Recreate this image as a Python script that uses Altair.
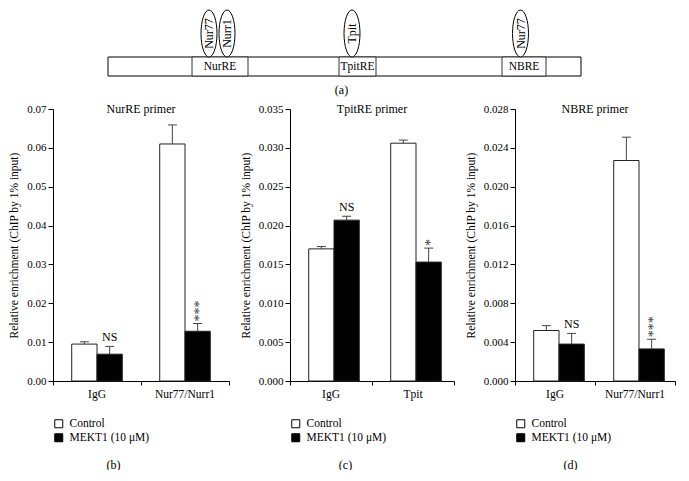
import altair as alt
import pandas as pd

FONT = "Liberation Serif"

# ---------------- (a) promoter diagram ----------------
track_start = [0]
track_end = [473]
element_names = ["NurRE", "TpitRE", "NBRE"]
element_start = [84, 231, 394]
element_end = [140, 268, 438]
protein_names = ["Nur77", "Nurr1", "Tpit", "Nur77"]
protein_pos = [101, 119, 244, 412.5]
track_low, track_high = 0, 19
protein_center = 42.5
diagram_ymax = 66
diagram_view = [-55, 572]   # visible extent of the schematic axis

# ---------------- bar panels ----------------
series = ["Control", "MEKT1 (10 μM)"]

cats_b = ["IgG", "Nur77/Nurr1"]
ctrl_b = [0.0095, 0.0610]
ctrl_err_b = [0.0006, 0.0049]
mekt_b = [0.0069, 0.0128]
mekt_err_b = [0.0020, 0.0020]
sig_b = ["NS", "***"]
yticks_b = [0.00, 0.01, 0.02, 0.03, 0.04, 0.05, 0.06, 0.07]

cats_c = ["IgG", "Tpit"]
ctrl_c = [0.0170, 0.0306]
ctrl_err_c = [0.0003, 0.0004]
mekt_c = [0.0207, 0.0153]
mekt_err_c = [0.0005, 0.0018]
sig_c = ["NS", "*"]
yticks_c = [0.000, 0.005, 0.010, 0.015, 0.020, 0.025, 0.030, 0.035]

cats_d = ["IgG", "Nur77/Nurr1"]
ctrl_d = [0.0052, 0.0227]
ctrl_err_d = [0.0005, 0.0024]
mekt_d = [0.0038, 0.0033]
mekt_err_d = [0.0011, 0.0010]
sig_d = ["NS", "***"]
yticks_d = [0.000, 0.004, 0.008, 0.012, 0.016, 0.020, 0.024, 0.028]

YTITLE = "Relative enrichment (ChIP by 1% input)"

# ---------------- diagram chart ----------------
DW = 627
xs = alt.Scale(domain=diagram_view, nice=False, zero=False)
ys = alt.Scale(domain=[0, diagram_ymax], nice=False, zero=True)
xaxis_a = alt.Axis(title="(a)", domain=False, ticks=False, labels=False, grid=False,
                   titlePadding=8, titleFontSize=12, titleFontWeight="normal", titleFont=FONT,
                   titleColor="black", titleX=288, titleAlign="center")

track_df = pd.DataFrame({"start": track_start, "end": track_end,
                         "lo": [track_low], "hi": [track_high]})
elem_df = pd.DataFrame({"name": element_names, "start": element_start, "end": element_end,
                        "lo": [track_low] * 3, "hi": [track_high] * 3})
elem_df["mid"] = (elem_df["start"] + elem_df["end"]) / 2
elem_df["ymid"] = (track_low + track_high) / 2
prot_df = pd.DataFrame({"name": protein_names, "pos": protein_pos,
                        "yc": [protein_center] * 4})

ELLIPSE = "M0,-1 A0.34,1 0 1,1 0,1 A0.34,1 0 1,1 0,-1 Z"

track = alt.Chart(track_df).mark_rect(fill="white", stroke="black", strokeWidth=1).encode(
    x=alt.X("start:Q", scale=xs, axis=xaxis_a), x2="end:Q",
    y=alt.Y("lo:Q", scale=ys, axis=None), y2="hi:Q")
elems = alt.Chart(elem_df).mark_rect(fill="white", stroke="#333", strokeWidth=1).encode(
    x=alt.X("start:Q", scale=xs, axis=xaxis_a), x2="end:Q",
    y=alt.Y("lo:Q", scale=ys, axis=None), y2="hi:Q")
elem_text = alt.Chart(elem_df).mark_text(font=FONT, fontSize=11.5, color="black").encode(
    x=alt.X("mid:Q", scale=xs, axis=xaxis_a),
    y=alt.Y("ymid:Q", scale=ys, axis=None), text="name:N")
prots = alt.Chart(prot_df).mark_point(shape=ELLIPSE, size=2209, filled=True, fill="white",
                                      stroke="black", strokeWidth=1, opacity=1).encode(
    x=alt.X("pos:Q", scale=xs, axis=xaxis_a),
    y=alt.Y("yc:Q", scale=ys, axis=None))
prot_text = alt.Chart(prot_df).mark_text(font=FONT, fontSize=12, angle=270, color="black").encode(
    x=alt.X("pos:Q", scale=xs, axis=xaxis_a),
    y=alt.Y("yc:Q", scale=ys, axis=None), text="name:N")

diagram = alt.layer(track, elems, elem_text, prots, prot_text).properties(
    width=DW, height=diagram_ymax)


# ---------------- panel builder ----------------
def panel(cats, ctrl, ctrl_err, mekt, mekt_err, sig, yticks, fmt, title, label,
          width, title_x, legend_x):
    rows = []
    for i, c in enumerate(cats):
        rows.append(dict(cat=c, series=series[0], val=ctrl[i], top=ctrl[i] + ctrl_err[i], sig=""))
        rows.append(dict(cat=c, series=series[1], val=mekt[i], top=mekt[i] + mekt_err[i], sig=sig[i]))
    df = pd.DataFrame(rows)

    x = alt.X("cat:N", sort=cats, scale=alt.Scale(paddingInner=0, paddingOuter=0),
              axis=alt.Axis(title=label, titleX=title_x, titleY=83, titleBaseline="middle",
                            titleAlign="center", titleFontSize=12, titleFontWeight="normal",
                            labelAngle=0, labelFontSize=11.5, labelPadding=3, tickSize=4,
                            bandPosition=1, tickExtra=True))
    xo = alt.XOffset("series:N", sort=series,
                     scale=alt.Scale(paddingInner=0, paddingOuter=0.74))
    yscale = alt.Scale(domain=[yticks[0], yticks[-1]], nice=False, zero=True)
    yaxis = alt.Axis(title=YTITLE, values=yticks, format=fmt, tickSize=5, labelPadding=2,
                     labelFontSize=11, titleFontSize=11.5, titleFontWeight="normal",
                     titlePadding=7, grid=False)

    base = alt.Chart(df).encode(x=x, xOffset=xo)
    bars = base.mark_bar(stroke="#222", strokeWidth=1).encode(
        y=alt.Y("val:Q", scale=yscale, axis=yaxis),
        fill=alt.Fill("series:N", scale=alt.Scale(domain=series, range=["white", "black"]),
                      legend=alt.Legend(orient="none", legendX=legend_x, legendY=309,
                                        title=None, symbolType="square", symbolSize=64,
                                        symbolStrokeColor="black", symbolStrokeWidth=1,
                                        labelFontSize=11.5, labelFont=FONT, rowPadding=1,
                                        labelOffset=5, direction="vertical")))
    rules = base.mark_rule(color="#444", strokeWidth=1).encode(
        y=alt.Y("val:Q", scale=yscale, axis=yaxis), y2="top:Q")
    caps = base.mark_tick(size=9, thickness=1, color="#444", opacity=1).encode(
        y=alt.Y("top:Q", scale=yscale, axis=yaxis))
    ns = base.transform_filter("datum.sig == 'NS'").mark_text(
        font=FONT, fontSize=12, baseline="bottom", dy=-2, color="black").encode(
        y=alt.Y("top:Q", scale=yscale, axis=yaxis), text="sig:N")
    stars = base.transform_filter("datum.sig != 'NS' && datum.sig != ''").mark_text(
        font=FONT, fontSize=14, angle=270, align="left", baseline="middle", dx=2, dy=2,
        color="#333").encode(
        y=alt.Y("top:Q", scale=yscale, axis=yaxis), text="sig:N")

    return alt.layer(bars, rules, caps, ns, stars).properties(
        width=width, height=272,
        title=alt.TitleParams(title, font=FONT, fontSize=12, fontWeight="normal",
                              anchor="middle", baseline="middle", offset=-18, color="black"))


pb = panel(cats_b, ctrl_b, ctrl_err_b, mekt_b, mekt_err_b, sig_b, yticks_b, ".2f",
           "NurRE primer", "(b)", 176, 60, 0)
pc = panel(cats_c, ctrl_c, ctrl_err_c, mekt_c, mekt_err_c, sig_c, yticks_c, ".3f",
           "TpitRE primer", "(c)", 164, 55, 0)
pd_ = panel(cats_d, ctrl_d, ctrl_err_d, mekt_d, mekt_err_d, sig_d, yticks_d, ".3f",
            "NBRE primer", "(d)", 160, 55, 0)

bottom = alt.hconcat(pb, pc, pd_, spacing=10).resolve_scale(
    x="independent", y="independent", fill="independent").resolve_legend(fill="independent")

chart = alt.vconcat(diagram, bottom, spacing=8).properties(
    padding=0
).configure_view(stroke=None).configure_axis(
    labelFont=FONT, titleFont=FONT, labelColor="black", titleColor="black",
    domainColor="black", tickColor="black"
).configure_legend(labelColor="black")

chart.save("out.html", embed_options={"renderer": "svg", "actions": False})
